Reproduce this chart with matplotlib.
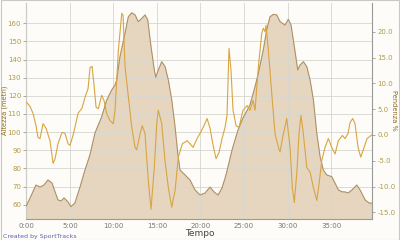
import numpy as np
import matplotlib.pyplot as plt
from matplotlib.patches import Rectangle

# elevation profile (minutes, metres)
elev_t = [0.00, 0.54, 1.11, 1.57, 2.03, 2.49, 2.95, 3.30, 3.64, 3.99, 4.33, 4.79,
          5.13, 5.58, 6.17, 6.74, 7.31, 7.89, 8.66, 9.24, 9.81, 10.19, 10.38, 10.76,
          11.34, 11.72, 12.11, 12.49, 12.86, 13.26, 13.64, 13.94, 14.32, 14.70, 14.86,
          15.16, 15.55, 15.93, 16.31, 16.70, 17.08, 17.39, 17.65, 18.03, 18.80, 19.38,
          19.95, 20.53, 21.10, 21.56, 22.02, 22.48, 22.94, 23.63, 24.32, 24.89, 25.69,
          26.27, 26.65, 27.22, 27.61, 27.99, 28.37, 28.76, 29.14, 29.71, 30.09, 30.40,
          30.78, 31.17, 31.44, 31.82, 32.21, 32.59, 32.97, 33.36, 33.74, 34.11, 34.50,
          35.08, 35.46, 35.84, 36.23, 36.61, 36.95, 37.41, 37.95, 38.33, 38.91, 39.36,
          39.67]
elev_m = [59.3, 64.8, 70.8, 69.7, 70.8, 73.6, 71.9, 67.0, 62.6, 62.0, 63.7, 61.5,
          58.9, 60.9, 69.7, 79.1, 87.4, 99.5, 108.5, 117.7, 123.2, 126.0, 128.7, 141.6,
          154.5, 163.6, 165.8, 164.6, 160.9, 162.7, 164.6, 161.8, 147.1, 134.2, 130.2,
          134.2, 138.8, 136.1, 128.7, 117.7, 103.0, 88.3, 79.1, 77.3, 73.6, 68.1,
          65.3, 66.4, 69.7, 67.0, 65.3, 69.2, 76.4, 90.1, 101.2, 107.8, 115.0,
          125.0, 132.4, 145.3, 156.3, 163.6, 164.9, 164.6, 160.9, 159.0, 162.2, 159.0,
          147.1, 134.2, 137.0, 138.8, 136.1, 128.7, 117.7, 99.3, 86.4, 79.1, 76.4,
          75.4, 71.8, 68.1, 67.1, 67.0, 66.4, 68.1, 70.8, 68.1, 62.6, 60.9,
          60.8]

# grade (minutes, percent)
grade_t = [0.00, 0.43, 0.77, 1.11, 1.34, 1.57, 1.92, 2.26, 2.72, 3.07, 3.30, 3.64,
           4.10, 4.45, 4.79, 5.02, 5.36, 5.59, 5.94, 6.40, 6.74, 7.09, 7.32, 7.55,
           7.78, 8.01, 8.27, 8.66, 8.92, 9.24, 9.61, 9.99, 10.19, 10.57, 10.96, 11.11,
           11.34, 11.72, 12.11, 12.49, 12.68, 13.06, 13.32, 13.63, 14.01, 14.32, 14.70,
           14.98, 15.16, 15.55, 15.93, 16.31, 16.70, 17.08, 17.46, 17.92, 18.23, 18.46,
           18.80, 19.15, 19.61, 19.95, 20.41, 20.76, 21.10, 21.45, 21.79, 22.13, 22.48,
           22.83, 23.05, 23.28, 23.51, 23.74, 24.09, 24.43, 24.89, 25.35, 25.69, 26.04,
           26.27, 26.65, 27.04, 27.22, 27.42, 27.53, 27.80, 28.19, 28.57, 28.95, 29.14,
           29.52, 29.91, 30.29, 30.55, 30.78, 31.06, 31.32, 31.55, 31.82, 32.21, 32.59,
           32.97, 33.36, 33.62, 33.93, 34.31, 34.69, 35.08, 35.46, 35.84, 36.30, 36.61,
           36.95, 37.18, 37.49, 37.75, 38.10, 38.41, 38.68, 39.13, 39.67]
grade_p = [6.4, 5.5, 4.2, 1.8, -0.5, -0.7, 2.2, 1.3, -1.1, -5.5, -4.6, -1.7,
           0.5, 0.3, -1.7, -2.0, -0.1, 1.5, 4.2, 5.2, 7.3, 9.0, 13.1, 13.3,
           9.6, 5.4, 5.1, 7.7, 6.7, 4.1, 2.8, 2.2, 4.8, 16.4, 23.6, 23.2,
           13.2, 7.4, 1.5, -2.4, -2.9, 0.2, 1.8, 0.3, -8.9, -14.4, -6.3,
           2.2, 4.8, 2.2, -5.0, -10.2, -14.0, -10.8, -4.3, -1.7, -1.4, -1.1,
           -1.7, -2.4, -0.7, 0.3, 1.8, 3.2, 1.3, -2.0, -4.6, -3.4, -0.7,
           1.5, 3.8, 16.8, 12.5, 4.8, 1.8, 1.5, 4.8, 5.7, 4.8, 6.7,
           4.8, 13.2, 19.7, 20.7, 20.0, 21.3, 16.4, 8.0, 0.2, -2.4, -3.3,
           0.2, 3.2, -2.4, -10.2, -13.1, -7.5, 0.2, 3.8, 0.2, -6.3, -7.2,
           -10.2, -12.7, -9.5, -5.0, -2.4, -0.7, -2.4, -3.7, -1.1, -0.1, -0.7,
           0.3, 2.4, 3.2, 2.2, -2.4, -4.3, -3.0, -0.7, 0.0]

x_ticks = [0, 5, 10, 15, 20, 25, 30, 35]
x_labels = ['0:00', '5:00', '10:00', '15:00', '20:00', '25:00', '30:00', '35:00']
elev_ticks = [60, 70, 80, 90, 100, 110, 120, 130, 140, 150, 160]
grade_ticks = [-15, -10, -5, 0, 5, 10, 15, 20]

fig = plt.figure(figsize=(4, 2.4), dpi=100, facecolor='#fdfcf8')
fig.patches.append(Rectangle((0.002, 0.002), 0.996, 0.996, transform=fig.transFigure,
                             fill=False, edgecolor='#c8c8c8', lw=0.8))
ax = fig.add_axes([0.0658, 0.0875, 0.8635, 0.9])
ax.set_facecolor('#fdfcf8')

ax.fill_between(elev_t, elev_m, 0, color='#e6d6bf', zorder=2)
ax.plot(elev_t, elev_m, color='#a98c62', lw=0.7, zorder=3)
ax.set_xlim(0, 39.67)
ax.set_ylim(52.1, 171.2)

ax.set_xticks(x_ticks)
ax.set_xticklabels(x_labels)
ax.set_yticks(elev_ticks)
ax.grid(True, color='#d6d6d0', lw=0.6, zorder=0)
ax.set_axisbelow(False)
ax.tick_params(axis='x', labelsize=5, colors='#777777', length=0, pad=3)
ax.tick_params(axis='y', labelsize=5, colors='#999999', labelcolor='#b09a4a', length=2.5, width=0.6, pad=1.2)
for s in ['top', 'right']:
    ax.spines[s].set_visible(False)
for s in ['left', 'bottom']:
    ax.spines[s].set_color('#999999')
    ax.spines[s].set_linewidth(0.8)

ax2 = ax.twinx()
ax2.plot(grade_t, grade_p, color='#d8a540', lw=0.8, zorder=4)
ax2.set_ylim(-16.3, 25.6)
ax2.set_yticks(grade_ticks)
ax2.set_yticklabels(['%.1f' % v for v in grade_ticks])
ax2.tick_params(axis='y', labelsize=5, colors='#999999', labelcolor='#b09a4a', length=2.5, width=0.6, pad=1.5)
for s in ['top', 'left', 'bottom']:
    ax2.spines[s].set_visible(False)
ax2.spines['right'].set_color('#999999')
ax2.spines['right'].set_linewidth(0.8)

fig.text(0.013, 0.54, 'Altezza (metri)', rotation=90, ha='center', va='center',
         fontsize=4.8, color='#8a6a1c')
fig.text(0.984, 0.54, 'Pendenza %', rotation=270, ha='center', va='center',
         fontsize=4.8, color='#8a6a1c')
fig.text(0.5, 0.028, 'Tempo', ha='center', va='center', fontsize=6.5, color='#444444')
fig.text(0.008, 0.014, 'Created by SportTracks', ha='left', va='center', fontsize=4.5,
         color='#5a62b0')

fig.savefig('out.png', dpi=100, facecolor=fig.get_facecolor())
